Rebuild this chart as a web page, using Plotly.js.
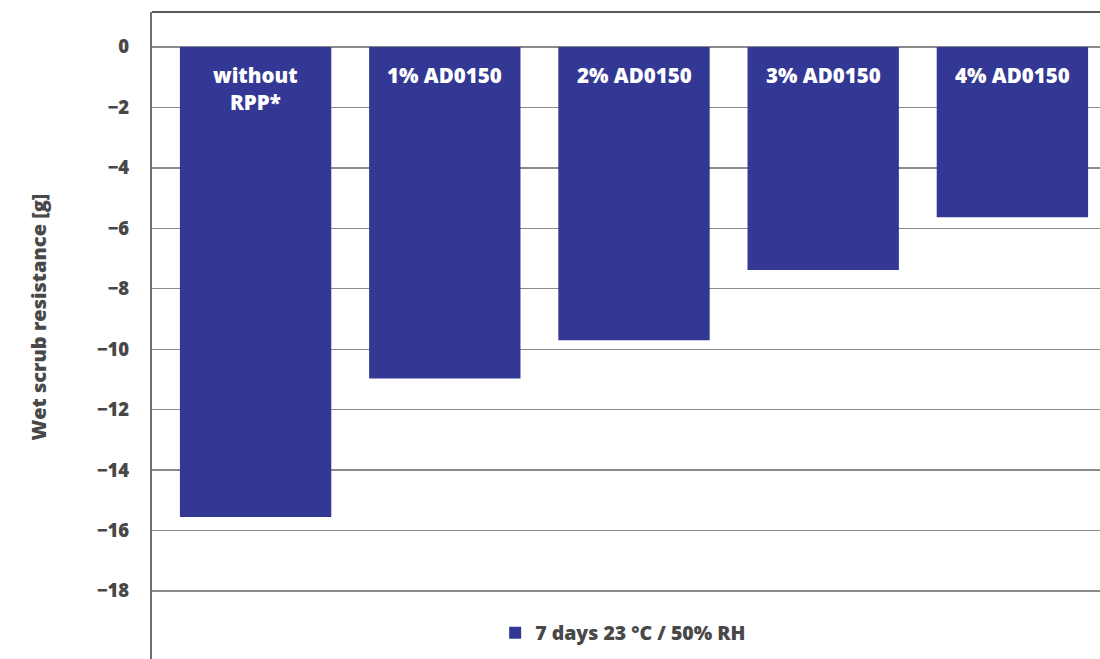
<!DOCTYPE html>
<html>
<head>
<meta charset="utf-8">
<script src="https://cdn.plot.ly/plotly-3.0.1.min.js"></script>
<style>html,body{margin:0;padding:0;background:#fff;overflow:hidden}</style>
</head>
<body>
<div id="chart" style="width:1100px;height:659px"></div>
<script>
const categories = ["without RPP*", "1% AD0150", "2% AD0150", "3% AD0150", "4% AD0150"];
const barLabels = ["without<br>RPP*", "1% AD0150", "2% AD0150", "3% AD0150", "4% AD0150"];
const values = [-15.55, -10.97, -9.7, -7.38, -5.63];
const seriesName = "7 days 23 °C / 50% RH";
const tickValues = [0, -2, -4, -6, -8, -10, -12, -14, -16, -18];
const tickLabels = ["0", "−2", "−4", "−6", "−8", "−10", "−12", "−14", "−16", "−18"];
const yTitle = "Wet scrub resistance [g]";

const barColor = "#333894";
const textColor = "#484848";
const fontFamily = "'Open Sans', Lato, sans-serif";

const xIdx = categories.map((c, i) => i);

const trace = {
  type: "bar",
  x: xIdx,
  y: values,
  name: seriesName,
  marker: {color: barColor},
  hoverinfo: "skip",
  showlegend: true
};

const annotations = barLabels.map((t, i) => ({
  x: i, y: 0, xref: "x", yref: "y",
  text: t, showarrow: false,
  yanchor: "top", yshift: -12,
  font: {family: fontFamily, size: 20.5, color: "#ffffff", weight: 800}
}));
annotations.push({
  xref: "paper", yref: "paper", x: -0.12, y: 0.528,
  xanchor: "center", yanchor: "middle",
  text: yTitle, textangle: -90, showarrow: false,
  font: {family: fontFamily, size: 20, color: textColor, weight: 800}
});

const layout = {
  width: 1100, height: 659,
  margin: {l: 152, r: 0, t: 12, b: 0},
  paper_bgcolor: "#ffffff",
  plot_bgcolor: "#ffffff",
  bargap: 0.2,
  showlegend: true,
  legend: {
    orientation: "h", x: 0.497, xanchor: "center", y: 0.04, yanchor: "middle",
    font: {family: fontFamily, size: 19.5, color: textColor, weight: 800},
    bgcolor: "rgba(0,0,0,0)"
  },
  xaxis: {
    range: [-0.5476, 4.463],
    showticklabels: false, showgrid: false, zeroline: false,
    ticks: "", fixedrange: true
  },
  yaxis: {
    range: [-20.25, 1.158],
    tickvals: tickValues, ticktext: tickLabels,
    tickfont: {family: fontFamily, size: 18.5, color: textColor, weight: 800},
    ticks: "outside", ticklen: 17, tickcolor: "rgba(0,0,0,0)",
    showgrid: true, gridcolor: "#8a8a8a", gridwidth: 1.4,
    zeroline: false,
    showline: true, linecolor: "#6e6e6e", linewidth: 2.2,
    fixedrange: true
  },
  shapes: [
    {type: "line", xref: "paper", yref: "paper", x0: 0, x1: 1, y0: 1, y1: 1,
     line: {color: "#5a5a5a", width: 2}}
  ],
  annotations: annotations
};

Plotly.newPlot("chart", [trace], layout, {displayModeBar: false, staticPlot: true});
</script>
</body>
</html>
